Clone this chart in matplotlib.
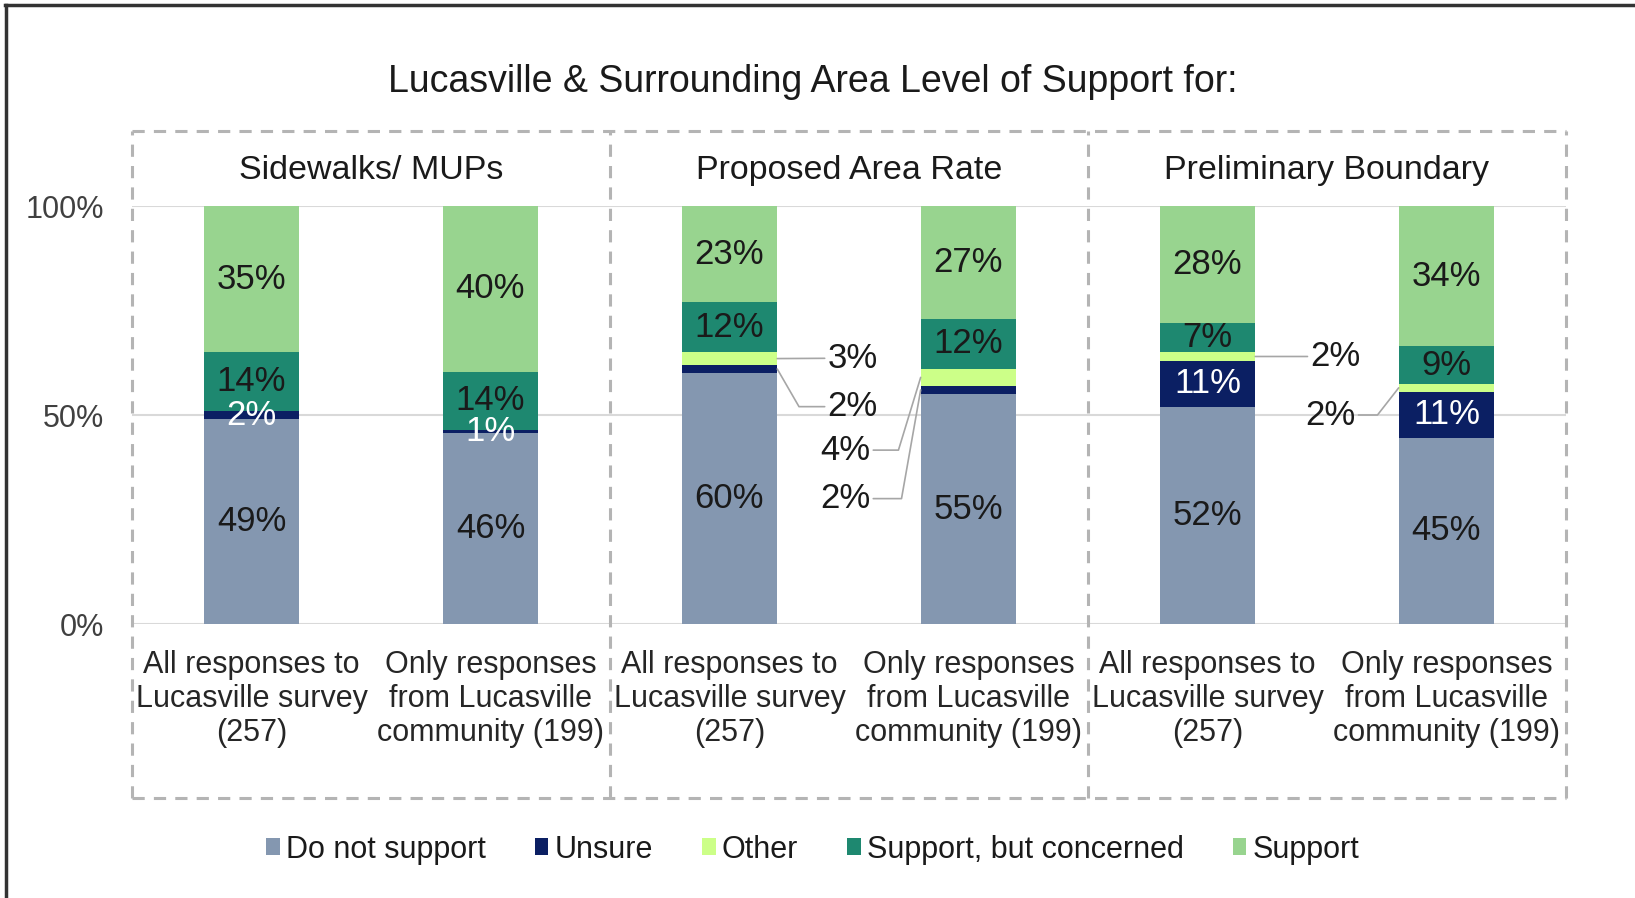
import matplotlib
matplotlib.use("Agg")
import matplotlib.pyplot as plt
from matplotlib.lines import Line2D
from matplotlib.patches import Patch
import numpy as np

plt.rcParams['font.family'] = ['Liberation Sans', 'DejaVu Sans']

# ---- data ----
title = "Lucasville & Surrounding Area Level of Support for:"
panels = ["Sidewalks/ MUPs", "Proposed Area Rate", "Preliminary Boundary"]
categories = ["All responses to\nLucasville survey\n(257)",
              "Only responses\nfrom Lucasville\ncommunity (199)"] * 3
series = ["Do not support", "Unsure", "Other", "Support, but concerned", "Support"]
do_not = [49, 45.6, 60, 55, 52, 44.6]
unsure = [2, 0.9, 2, 2, 11, 11]
other = [0, 0, 3, 4, 2, 1.8]
concerned = [14, 13.8, 12, 12, 7, 9]
support = [35, 39.7, 23, 27, 28, 33.6]
yticks = [0, 50, 100]
ytick_labels = ["0%", "50%", "100%"]

colors = ["#8497b0", "#0b1f63", "#ccff88", "#1e8870", "#98d48f"]
label_colors = ["#1a1a1a", "white", "#1a1a1a", "#1a1a1a", "#1a1a1a"]

# segments that get a leader line instead of an in-bar label
# (bar, series index) -> text anchor (x, y in %) and angle of the leader at the bar
callouts = {
    (2, 2): (2.41, 63.6, 0),
    (2, 1): (2.41, 52.0, 120),
    (3, 2): (2.59, 41.6, 73),
    (3, 1): (2.59, 30.0, 80),
    (4, 2): (4.43, 64.0, 0),
    (5, 2): (4.62, 50.0, 52),
}

values = np.array([do_not, unsure, other, concerned, support])
x = np.arange(len(categories))

fig = plt.figure(figsize=(16.35, 8.98), dpi=100)
ax = fig.add_axes([0.0807, 0.3051, 0.8771, 0.4655])

bottom = np.zeros(len(x))
for i, (name, vals) in enumerate(zip(series, values)):
    ax.bar(x, vals, 0.4, bottom=bottom, color=colors[i], label=name, zorder=2)
    for j in range(len(x)):
        v = vals[j]
        if v <= 0:
            continue
        yc = bottom[j] + v / 2
        txt = f"{v:.0f}%"
        if (j, i) in callouts:
            tx, ty, ang = callouts[(j, i)]
            right_side = tx > x[j]
            edge = x[j] + 0.2 if right_side else x[j] - 0.2
            if ang == 0:
                cs = "arc3"
            else:
                cs = f"angle,angleA=0,angleB={ang},rad=0"
            ax.annotate(txt, xy=(edge, yc), xytext=(tx, ty),
                        ha="left" if right_side else "right", va="center",
                        fontsize=25, color="#1a1a1a",
                        arrowprops=dict(arrowstyle="-", color="#a6a6a6", lw=1.2,
                                        shrinkA=0, shrinkB=0, connectionstyle=cs))
        else:
            ax.text(x[j], yc, txt, ha="center", va="center", fontsize=25,
                    color=label_colors[i], zorder=3)
    bottom += vals

ax.set_xlim(-0.5, 5.5)
ax.set_ylim(0, 100)
for s in ax.spines.values():
    s.set_visible(False)
ax.set_yticks(yticks, ytick_labels)
ax.set_xticks(x, categories)
ax.tick_params(axis="y", length=0, pad=20, labelsize=22, labelcolor="#404040")
ax.tick_params(axis="x", length=0, pad=19, labelsize=22, labelcolor="#262626")
for lab in ax.get_xticklabels():
    lab.set_linespacing(1.17)
for yv in yticks:
    ax.axhline(yv, color="#d9d9d9", lw=1.5, zorder=1)

# dashed panel boxes
box_top, box_bot = 117.9, -41.6
dash = dict(color="#b4b4b4", lw=2.2, ls=(0, (4, 3)), clip_on=False, zorder=1)
ax.plot([-0.5, 5.5], [box_top, box_top], **dash)
ax.plot([-0.5, 5.5], [box_bot, box_bot], **dash)
for xv in [-0.5, 1.5, 3.5, 5.5]:
    ax.plot([xv, xv], [box_bot, box_top], **dash)

for k, p in enumerate(panels):
    ax.text(2 * k + 0.5, 108.4, p, ha="center", va="center", fontsize=24.5,
            color="#1a1a1a", clip_on=False)

fig.text(0.497, 0.909, title, ha="center", va="center", fontsize=27, color="#1a1a1a")

handles = [Patch(facecolor=c) for c in colors]
fig.legend(handles, series, loc="center", bbox_to_anchor=(0.497, 0.054), ncol=5,
           frameon=False, fontsize=22, handlelength=0.45, handleheight=0.5,
           handletextpad=0.2, columnspacing=1.6, labelcolor="#1a1a1a")

# frame edges visible at top and left of the original
fig.add_artist(Line2D([0.003, 1.0], [0.9945, 0.9945], color="#333333", lw=2.5))
fig.add_artist(Line2D([0.0035, 0.0035], [0.0, 0.9945], color="#333333", lw=2.5))

fig.savefig("out.png", dpi=100)
